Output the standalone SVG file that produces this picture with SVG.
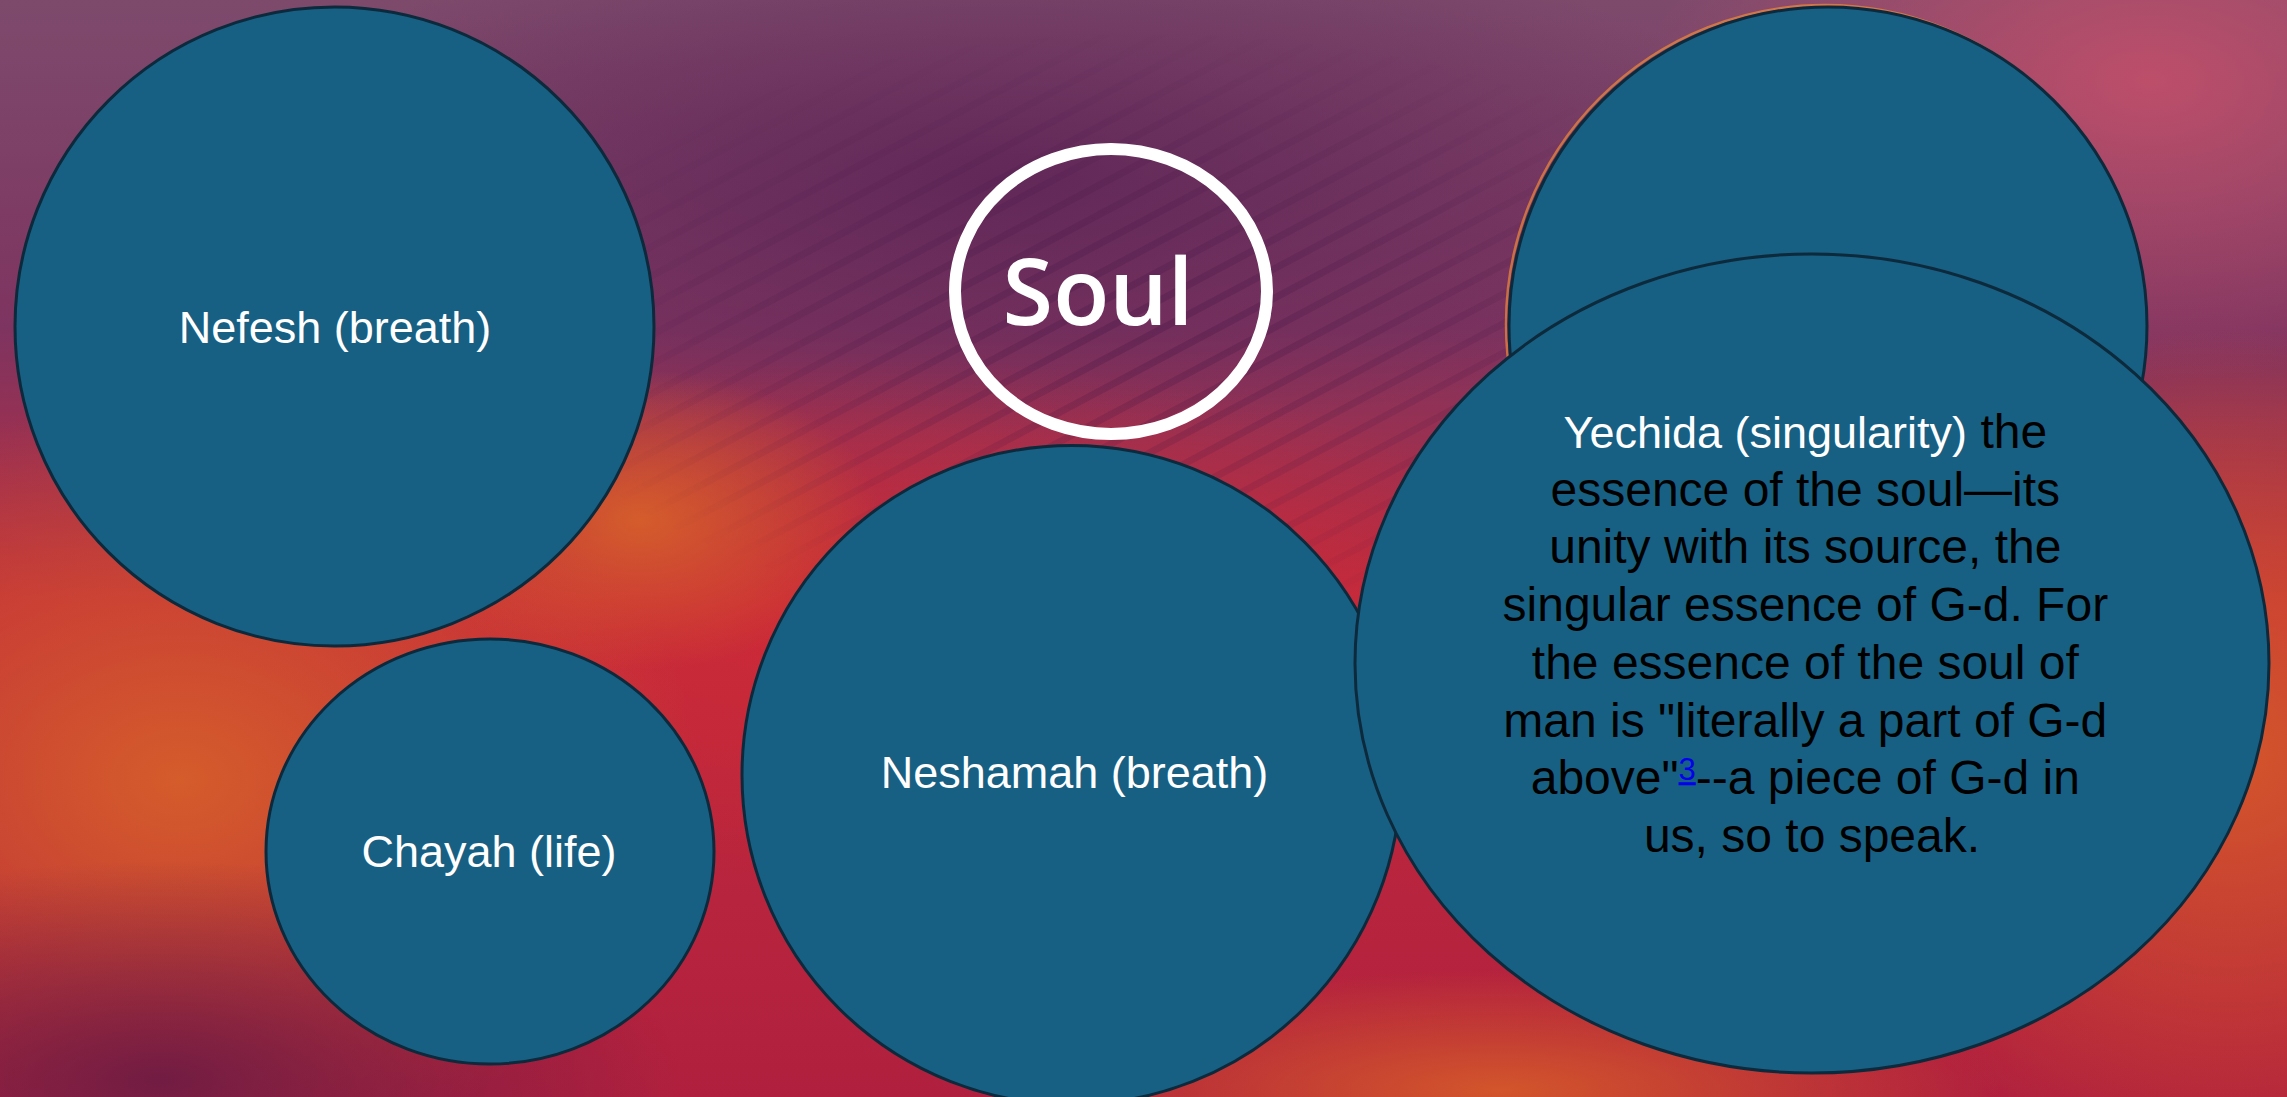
<svg xmlns="http://www.w3.org/2000/svg" width="2287" height="1097" viewBox="0 0 2287 1097">
  <defs>
    <linearGradient id="bgBase" x1="0" y1="0" x2="0" y2="1">
      <stop offset="0" stop-color="#7d4a6c"/>
      <stop offset="0.3" stop-color="#7e3460"/>
      <stop offset="0.55" stop-color="#c22a3c"/>
      <stop offset="1" stop-color="#b0203e"/>
    </linearGradient>
    <radialGradient id="gOrangeL" cx="0.5" cy="0.5" r="0.5">
      <stop offset="0" stop-color="#d65f2a" stop-opacity="0.95"/>
      <stop offset="1" stop-color="#d65f2a" stop-opacity="0"/>
    </radialGradient>
    <radialGradient id="gOrangeR" cx="0.5" cy="0.5" r="0.5">
      <stop offset="0" stop-color="#d4582a" stop-opacity="0.95"/>
      <stop offset="1" stop-color="#d4582a" stop-opacity="0"/>
    </radialGradient>
    <radialGradient id="gPurple" cx="0.5" cy="0.5" r="0.5">
      <stop offset="0" stop-color="#5c2456" stop-opacity="0.85"/>
      <stop offset="1" stop-color="#5c2456" stop-opacity="0"/>
    </radialGradient>
    <radialGradient id="gDark" cx="0.5" cy="0.5" r="0.5">
      <stop offset="0" stop-color="#6a1a44" stop-opacity="0.9"/>
      <stop offset="1" stop-color="#6a1a44" stop-opacity="0"/>
    </radialGradient>
    <radialGradient id="gPink" cx="0.5" cy="0.5" r="0.5">
      <stop offset="0" stop-color="#c8506a" stop-opacity="0.85"/>
      <stop offset="1" stop-color="#c8506a" stop-opacity="0"/>
    </radialGradient>
    <radialGradient id="gRed" cx="0.5" cy="0.5" r="0.5">
      <stop offset="0" stop-color="#d02a35" stop-opacity="0.8"/>
      <stop offset="1" stop-color="#d02a35" stop-opacity="0"/>
    </radialGradient>
    <pattern id="streaks" width="26" height="26" patternUnits="userSpaceOnUse" patternTransform="rotate(62)">
      <rect x="0" y="0" width="7" height="26" fill="#3a1040"/>
    </pattern>
    <radialGradient id="streakMaskG" cx="0.5" cy="0.5" r="0.5">
      <stop offset="0" stop-color="#fff" stop-opacity="1"/>
      <stop offset="1" stop-color="#fff" stop-opacity="0"/>
    </radialGradient>
    <mask id="streakMask">
      <ellipse cx="1150" cy="330" rx="650" ry="300" fill="url(#streakMaskG)"/>
    </mask>
    <style>
      .node { fill: #176083; stroke: #0c2a3c; stroke-width: 3; }
      .lbl { font-family: "Liberation Sans", Arial, sans-serif; font-size: 45px; fill: #ffffff; text-anchor: middle; }
      .body { font-family: "Liberation Sans", Arial, sans-serif; font-size: 48px; fill: #000000; text-anchor: middle; }
    </style>
  </defs>

  <g id="background">
    <rect x="0" y="0" width="2287" height="1097" fill="url(#bgBase)"/>
    <ellipse cx="1000" cy="180" rx="800" ry="260" fill="url(#gPurple)"/>
    <ellipse cx="2150" cy="80" rx="500" ry="300" fill="url(#gPink)"/>
    <ellipse cx="900" cy="620" rx="700" ry="260" fill="url(#gRed)"/>
    <ellipse cx="180" cy="780" rx="520" ry="380" fill="url(#gOrangeL)"/>
    <ellipse cx="640" cy="520" rx="240" ry="150" fill="url(#gOrangeL)"/>
    <ellipse cx="2230" cy="750" rx="420" ry="420" fill="url(#gOrangeR)"/>
    <ellipse cx="1500" cy="1090" rx="500" ry="120" fill="url(#gOrangeR)"/>
    <ellipse cx="160" cy="1080" rx="520" ry="220" fill="url(#gDark)"/>
    <rect x="0" y="0" width="2287" height="1097" fill="url(#streaks)" opacity="0.25" mask="url(#streakMask)"/>
  </g>

  <g id="connectors"></g>

  <g id="soul">
    <ellipse cx="1111" cy="291.5" rx="156" ry="142.5" fill="none" stroke="#ffffff" stroke-width="12"/>
    <text x="1098" y="325" font-family="'Open Sans', 'Noto Sans', sans-serif" font-weight="600" font-size="92" fill="#ffffff" text-anchor="middle">Soul</text>
  </g>

  <g id="nefesh">
    <circle class="node" cx="334.5" cy="326.5" r="319.5"/>
    <text class="lbl" x="335" y="343">Nefesh (breath)</text>
  </g>

  <g id="chayah">
    <ellipse class="node" cx="490" cy="851.5" rx="224" ry="212.5"/>
    <text class="lbl" x="489" y="867">Chayah (life)</text>
  </g>

  <g id="neshamah">
    <circle class="node" cx="1071.5" cy="775" r="329.5"/>
    <text class="lbl" x="1074.5" y="788">Neshamah (breath)</text>
  </g>

  <g id="top-right">
    <circle cx="1825" cy="324" r="319" fill="none" stroke="#f08a3a" stroke-width="2.5" opacity="0.7"/>
    <circle class="node" cx="1828" cy="326" r="319"/>
  </g>

  <g id="yechida">
    <ellipse class="node" cx="1812" cy="663.5" rx="457" ry="409.5"/>
    <text class="body">
      <tspan x="1812" y="448"><tspan fill="#ffffff" font-size="45">Yechida (singularity)</tspan> the</tspan>
      <tspan x="1812" y="505.7">essence of the soul—its</tspan>
      <tspan x="1812" y="563.4">unity with its source, the</tspan>
      <tspan x="1812" y="621">singular essence of G-d. For</tspan>
      <tspan x="1812" y="678.8">the essence of the soul of</tspan>
      <tspan x="1812" y="736.5">man is "literally a part of G-d</tspan>
      <tspan x="1812" y="794.2">above"<tspan font-size="31" fill="#0000ee" text-decoration="underline" dy="-14">3</tspan><tspan dy="14">--a piece of G-d in</tspan></tspan>
      <tspan x="1812" y="852">us, so to speak.</tspan>
    </text>
  </g>
</svg>
